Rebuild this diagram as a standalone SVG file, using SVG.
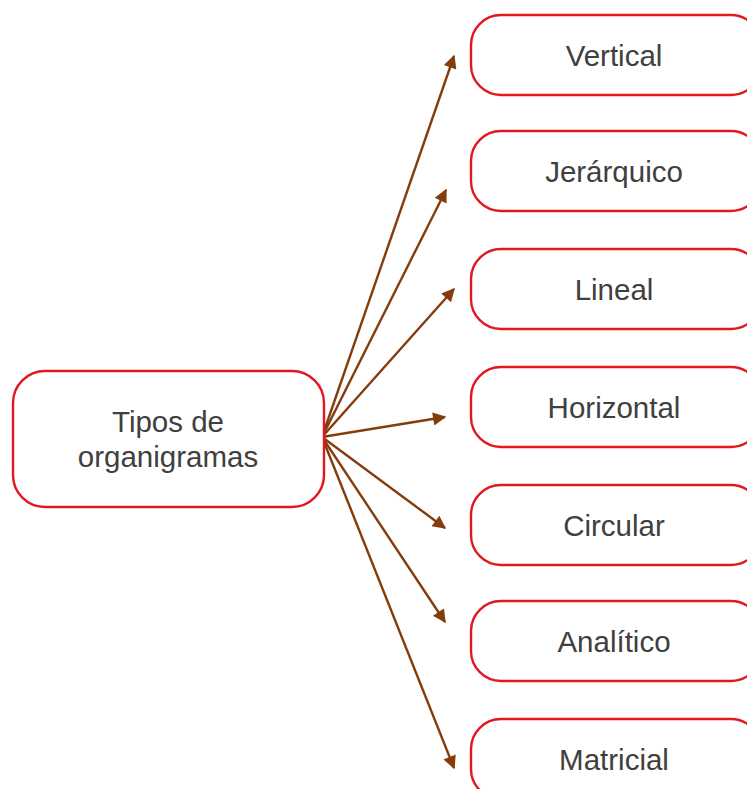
<svg xmlns="http://www.w3.org/2000/svg" width="747" height="789" viewBox="0 0 747 789">
  <style>
    .box { fill: #ffffff; stroke: #E2181E; stroke-width: 2.4; }
    .lbl { font-family: "Liberation Sans", Arial, sans-serif; font-size: 29.5px; fill: #404040; text-anchor: middle; }
    .link { stroke: #843C0C; stroke-width: 2.4; fill: none; marker-end: url(#arrow); }
  </style>
  <defs>
    <marker id="arrow" viewBox="0 0 10 10" refX="9" refY="5" markerWidth="7" markerHeight="5.5" orient="auto" markerUnits="strokeWidth">
      <path d="M0,0 L10,5 L0,10 z" fill="#843C0C"/>
    </marker>
  </defs>
  <rect width="747" height="789" fill="#ffffff"/>

  <g id="connectors">
    <line class="link" x1="322" y1="437" x2="454" y2="56"/>
    <line class="link" x1="322" y1="437" x2="446" y2="190"/>
    <line class="link" x1="322" y1="437" x2="454" y2="289"/>
    <line class="link" x1="322" y1="437" x2="445" y2="417"/>
    <line class="link" x1="322" y1="437" x2="445" y2="528"/>
    <line class="link" x1="322" y1="437" x2="445" y2="622"/>
    <line class="link" x1="322" y1="437" x2="454" y2="768"/>
  </g>

  <g id="root">
    <rect class="box" x="13" y="371" width="311" height="136" rx="32"/>
    <text class="lbl" x="168" y="432">Tipos de</text>
    <text class="lbl" x="168" y="467">organigramas</text>
  </g>

  <g id="vertical">
    <rect class="box" x="471" y="15" width="290" height="80" rx="30"/>
    <text class="lbl" x="614" y="66">Vertical</text>
  </g>
  <g id="jerarquico">
    <rect class="box" x="471" y="131" width="290" height="80" rx="30"/>
    <text class="lbl" x="614" y="182">Jerárquico</text>
  </g>
  <g id="lineal">
    <rect class="box" x="471" y="249" width="290" height="80" rx="30"/>
    <text class="lbl" x="614" y="300">Lineal</text>
  </g>
  <g id="horizontal">
    <rect class="box" x="471" y="367" width="290" height="80" rx="30"/>
    <text class="lbl" x="614" y="418">Horizontal</text>
  </g>
  <g id="circular">
    <rect class="box" x="471" y="485" width="290" height="80" rx="30"/>
    <text class="lbl" x="614" y="536">Circular</text>
  </g>
  <g id="analitico">
    <rect class="box" x="471" y="601" width="290" height="80" rx="30"/>
    <text class="lbl" x="614" y="652">Analítico</text>
  </g>
  <g id="matricial">
    <rect class="box" x="471" y="719" width="290" height="80" rx="30"/>
    <text class="lbl" x="614" y="770">Matricial</text>
  </g>
</svg>
